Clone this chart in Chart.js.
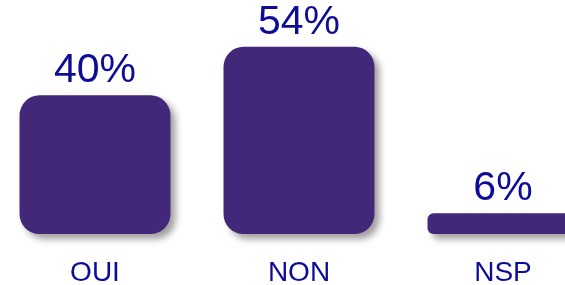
<!DOCTYPE html>
<html>
<head>
<meta charset="utf-8">
<script src="https://cdn.jsdelivr.net/npm/chart.js@4"></script>
<style>
  html, body { margin: 0; padding: 0; background: #fff; overflow: hidden; }
  #wrap { position: relative; width: 565px; height: 285px; overflow: hidden; }
  #chartCanvas { position: absolute; left: -7px; top: 0; }
</style>
</head>
<body>
<div id="wrap"><canvas id="chartCanvas" width="612" height="312"></canvas></div>
<script>
const categories = ['OUI', 'NON', 'NSP'];
const values = [40, 54, 6];
const valueLabels = ['40%', '54%', '6%'];

const barColor = '#43287a';
const textColor = '#0c0c96';

// Schatten unter den Balken
const shadowPlugin = {
  id: 'barShadow',
  beforeDatasetDraw(chart) {
    const c = chart.ctx;
    c.save();
    c.shadowColor = 'rgba(0,0,0,0.38)';
    c.shadowBlur = 7;
    c.shadowOffsetX = 5;
    c.shadowOffsetY = 5;
  },
  afterDatasetDraw(chart) {
    chart.ctx.restore();
  }
};

// Werte über den Balken
const labelPlugin = {
  id: 'valueLabels',
  afterDatasetsDraw(chart) {
    const c = chart.ctx;
    const meta = chart.getDatasetMeta(0);
    c.save();
    c.font = '41px "Liberation Sans", Arial, sans-serif';
    c.fillStyle = textColor;
    c.textAlign = 'center';
    c.textBaseline = 'alphabetic';
    meta.data.forEach((bar, i) => {
      c.fillText(valueLabels[i], bar.x, bar.y - 13);
    });
    c.restore();
  }
};

const ctx = document.getElementById('chartCanvas').getContext('2d');
new Chart(ctx, {
  type: 'bar',
  data: {
    labels: categories,
    datasets: [{
      data: values,
      backgroundColor: barColor,
      borderRadius: [20, 20, 6],
      borderSkipped: false,
      categoryPercentage: 1,
      barPercentage: 0.74,
      clip: false
    }]
  },
  options: {
    responsive: false,
    animation: false,
    layout: { padding: 0 },
    plugins: { legend: { display: false }, tooltip: { enabled: false } },
    scales: {
      x: {
        grid: { display: false, drawTicks: false },
        border: { display: false },
        ticks: {
          color: textColor,
          padding: 25,
          font: { family: '"Liberation Sans", Arial, sans-serif', size: 28, lineHeight: 1 }
        }
      },
      y: { display: false, min: 0, max: 67.5 }
    }
  },
  plugins: [shadowPlugin, labelPlugin]
});
</script>
</body>
</html>
